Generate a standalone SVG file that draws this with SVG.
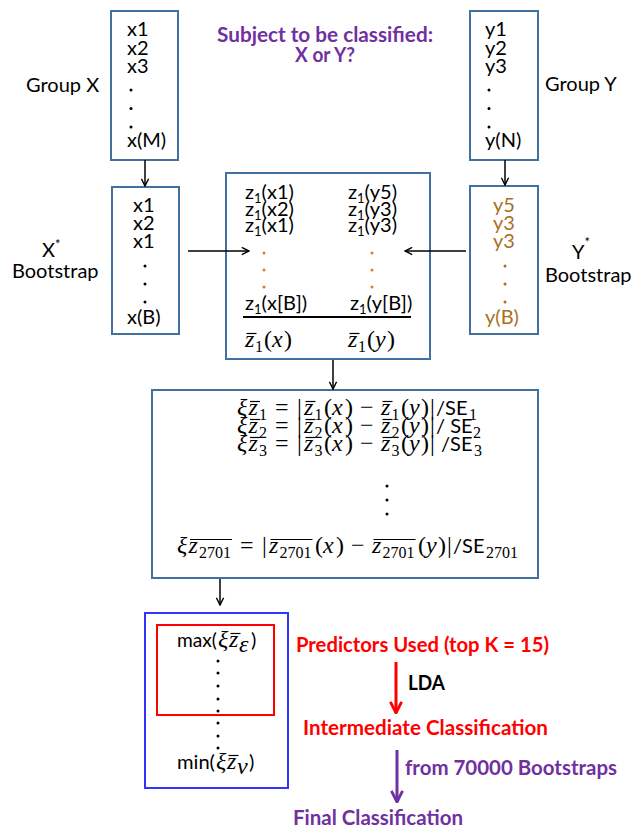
<svg xmlns="http://www.w3.org/2000/svg" width="633" height="829" viewBox="0 0 633 829">
<style>
.box{fill:#fff;stroke:#41719C;stroke-width:2}
.t{font-family:Lato,"Liberation Sans",sans-serif;font-size:20px;fill:#000}
.ts{font-family:Lato,"Liberation Sans",sans-serif;font-size:13px}
.m{font-family:"Liberation Serif","DejaVu Serif",serif;font-style:italic;font-size:24px;fill:#000}
.r{font-family:"Liberation Serif","DejaVu Serif",serif;font-size:24px;fill:#000}
.s{font-family:"Liberation Serif","DejaVu Serif",serif;font-size:16px;fill:#000}
.b{font-family:Lato,"Liberation Sans",sans-serif;font-weight:bold;font-size:20px}
.bar{stroke:#000;stroke-width:1.2}
.or{fill:#A9701E}
.od{fill:#E07B24}
.red{fill:#FF0000}
.pur{fill:#7030A0}
.c{fill:none;stroke:#000;stroke-width:1.5}
.d{fill:#000}
</style>
<defs>
<marker id="ah" viewBox="0 0 10 10" refX="9" refY="5" markerWidth="9" markerHeight="9" markerUnits="userSpaceOnUse" orient="auto"><path d="M1,1 L9,5 L1,9" fill="none" stroke="#000" stroke-width="1.6"/></marker>
<marker id="ahr" viewBox="0 0 10 10" refX="9" refY="5" markerWidth="14" markerHeight="14" markerUnits="userSpaceOnUse" orient="auto"><path d="M1,1 L9,5 L1,9" fill="none" stroke="#FF0000" stroke-width="2"/></marker>
<marker id="ahp" viewBox="0 0 10 10" refX="9" refY="5" markerWidth="14" markerHeight="14" markerUnits="userSpaceOnUse" orient="auto"><path d="M1,1 L9,5 L1,9" fill="none" stroke="#7030A0" stroke-width="2"/></marker>
</defs>
<rect width="633" height="829" fill="#fff"/>

<g id="subject">
<text class="b pur" x="217" y="42" textLength="216" lengthAdjust="spacingAndGlyphs">Subject to be classified:</text>
<text class="b pur" x="295" y="62" textLength="60" lengthAdjust="spacingAndGlyphs">X or Y?</text>
</g>

<g id="groupX">
<text class="t" x="26" y="92">Group X</text>
<rect class="box" x="111" y="11" width="67" height="149"/>
<text class="t" x="127" y="36">x1</text>
<text class="t" x="127" y="54.5">x2</text>
<text class="t" x="127" y="73">x3</text>
<circle class="d" cx="131" cy="90" r="1.5"/>
<circle class="d" cx="131" cy="108.5" r="1.5"/>
<circle class="d" cx="131" cy="127" r="1.5"/>
<text class="t" x="127" y="147">x(M)</text>
</g>

<g id="groupY">
<text class="t" x="545" y="91">Group Y</text>
<rect class="box" x="470" y="11" width="68" height="149"/>
<text class="t" x="485" y="36">y1</text>
<text class="t" x="485" y="54.5">y2</text>
<text class="t" x="485" y="73">y3</text>
<circle class="d" cx="489" cy="90" r="1.5"/>
<circle class="d" cx="489" cy="108.5" r="1.5"/>
<circle class="d" cx="489" cy="127" r="1.5"/>
<text class="t" x="485" y="147">y(N)</text>
</g>

<g id="bootX">
<text class="t" x="42" y="257">X<tspan font-size="13" dy="-8">*</tspan></text>
<text class="t" x="12" y="278">Bootstrap</text>
<rect class="box" x="112" y="187" width="67" height="147"/>
<text class="t" x="133" y="212">x1</text>
<text class="t" x="133" y="230">x2</text>
<text class="t" x="133" y="248">x1</text>
<circle class="d" cx="145" cy="266" r="1.5"/>
<circle class="d" cx="145" cy="284" r="1.5"/>
<circle class="d" cx="145" cy="302" r="1.5"/>
<text class="t" x="127" y="324">x(B)</text>
</g>

<g id="bootY">
<text class="t" x="572" y="259">Y<tspan font-size="13" dy="-12">*</tspan></text>
<text class="t" x="545" y="282">Bootstrap</text>
<rect class="box" x="470" y="186" width="68" height="148"/>
<text class="t or" x="493" y="212">y5</text>
<text class="t or" x="493" y="230">y3</text>
<text class="t or" x="493" y="248">y3</text>
<circle class="or" cx="505" cy="266" r="1.5"/>
<circle class="or" cx="505" cy="284" r="1.5"/>
<circle class="or" cx="505" cy="302" r="1.5"/>
<text class="t or" x="485" y="324">y(B)</text>
</g>

<g id="means">
<rect class="box" x="226" y="173" width="204" height="186"/>
<text class="t" x="245" y="199">z<tspan class="ts" dy="4">1</tspan><tspan dy="-4">(x1)</tspan></text>
<text class="t" x="245" y="215.5">z<tspan class="ts" dy="4">1</tspan><tspan dy="-4">(x2)</tspan></text>
<text class="t" x="245" y="232">z<tspan class="ts" dy="4">1</tspan><tspan dy="-4">(x1)</tspan></text>
<text class="t" x="348" y="199">z<tspan class="ts" dy="4">1</tspan><tspan dy="-4">(y5)</tspan></text>
<text class="t" x="348" y="215.5">z<tspan class="ts" dy="4">1</tspan><tspan dy="-4">(y3)</tspan></text>
<text class="t" x="348" y="232">z<tspan class="ts" dy="4">1</tspan><tspan dy="-4">(y3)</tspan></text>
<circle class="od" cx="264" cy="253" r="1.5"/>
<circle class="od" cx="264" cy="270" r="1.5"/>
<circle class="od" cx="264" cy="287" r="1.5"/>
<circle class="od" cx="372" cy="253" r="1.5"/>
<circle class="od" cx="372" cy="270" r="1.5"/>
<circle class="od" cx="372" cy="287" r="1.5"/>
<text class="t" x="245" y="310">z<tspan class="ts" dy="4">1</tspan><tspan dy="-4">(x[B])</tspan></text>
<text class="t" x="350" y="310">z<tspan class="ts" dy="4">1</tspan><tspan dy="-4">(y[B])</tspan></text>
<line x1="243" y1="317" x2="411" y2="317" stroke="#000" stroke-width="2"/>
<text><tspan class="m" x="245" y="347">z</tspan><tspan class="s" x="255" y="352">1</tspan><tspan class="r" x="264" y="347">(</tspan><tspan class="m" x="272" y="347">x</tspan><tspan class="r" x="284" y="347">)</tspan></text>
<line class="bar" x1="246.5" y1="333.5" x2="256.5" y2="333.5"/>
<text><tspan class="m" x="348" y="347">z</tspan><tspan class="s" x="358" y="352">1</tspan><tspan class="r" x="367" y="347">(</tspan><tspan class="m" x="375" y="347">y</tspan><tspan class="r" x="387" y="347">)</tspan></text>
<line class="bar" x1="349.5" y1="333.5" x2="359.5" y2="333.5"/>
</g>

<g id="scores">
<rect class="box" x="152" y="390" width="386" height="188"/>
<text><tspan class="m" x="237" y="415">ξ</tspan><tspan class="m" x="248.5" y="415">z</tspan><tspan class="s" x="259" y="420">1</tspan><tspan class="r" x="275" y="415">=</tspan><tspan class="r" x="297" y="415">|</tspan><tspan class="m" x="304" y="415">z</tspan><tspan class="s" x="314.5" y="420">1</tspan><tspan class="r" x="324" y="415">(</tspan><tspan class="m" x="332" y="415">x</tspan><tspan class="r" x="345" y="415">)</tspan><tspan class="r" x="360" y="415">−</tspan><tspan class="m" x="381" y="415">z</tspan><tspan class="s" x="391.5" y="420">1</tspan><tspan class="r" x="401" y="415">(</tspan><tspan class="m" x="409" y="415">y</tspan><tspan class="r" x="421" y="415">)</tspan><tspan class="r" x="430" y="415">|</tspan><tspan class="t" x="436" y="415">/SE</tspan><tspan class="s" x="469" y="420">1</tspan></text>
<line class="bar" x1="250" y1="401.5" x2="260" y2="401.5"/>
<line class="bar" x1="305.5" y1="401.5" x2="315.5" y2="401.5"/>
<line class="bar" x1="382.5" y1="401.5" x2="392.5" y2="401.5"/>
<text><tspan class="m" x="237" y="433">ξ</tspan><tspan class="m" x="248.5" y="433">z</tspan><tspan class="s" x="259" y="438">2</tspan><tspan class="r" x="275" y="433">=</tspan><tspan class="r" x="297" y="433">|</tspan><tspan class="m" x="304" y="433">z</tspan><tspan class="s" x="314.5" y="438">2</tspan><tspan class="r" x="324" y="433">(</tspan><tspan class="m" x="332" y="433">x</tspan><tspan class="r" x="345" y="433">)</tspan><tspan class="r" x="360" y="433">−</tspan><tspan class="m" x="381" y="433">z</tspan><tspan class="s" x="391.5" y="438">2</tspan><tspan class="r" x="401" y="433">(</tspan><tspan class="m" x="409" y="433">y</tspan><tspan class="r" x="421" y="433">)</tspan><tspan class="r" x="430" y="433">|</tspan><tspan class="t" x="436" y="433">/ SE</tspan><tspan class="s" x="473" y="438">2</tspan></text>
<line class="bar" x1="250" y1="419.5" x2="260" y2="419.5"/>
<line class="bar" x1="305.5" y1="419.5" x2="315.5" y2="419.5"/>
<line class="bar" x1="382.5" y1="419.5" x2="392.5" y2="419.5"/>
<text><tspan class="m" x="237" y="451">ξ</tspan><tspan class="m" x="248.5" y="451">z</tspan><tspan class="s" x="259" y="456">3</tspan><tspan class="r" x="275" y="451">=</tspan><tspan class="r" x="297" y="451">|</tspan><tspan class="m" x="304" y="451">z</tspan><tspan class="s" x="314.5" y="456">3</tspan><tspan class="r" x="324" y="451">(</tspan><tspan class="m" x="332" y="451">x</tspan><tspan class="r" x="345" y="451">)</tspan><tspan class="r" x="360" y="451">−</tspan><tspan class="m" x="381" y="451">z</tspan><tspan class="s" x="391.5" y="456">3</tspan><tspan class="r" x="401" y="451">(</tspan><tspan class="m" x="409" y="451">y</tspan><tspan class="r" x="421" y="451">)</tspan><tspan class="r" x="430" y="451">|</tspan><tspan class="t" x="441" y="451">/SE</tspan><tspan class="s" x="474" y="456">3</tspan></text>
<line class="bar" x1="250" y1="437.5" x2="260" y2="437.5"/>
<line class="bar" x1="305.5" y1="437.5" x2="315.5" y2="437.5"/>
<line class="bar" x1="382.5" y1="437.5" x2="392.5" y2="437.5"/>
<circle class="d" cx="387" cy="486" r="1.5"/>
<circle class="d" cx="387" cy="500" r="1.5"/>
<circle class="d" cx="387" cy="514" r="1.5"/>
<text><tspan class="m" x="177" y="553">ξ</tspan><tspan class="m" x="188.5" y="553">z</tspan><tspan class="s" x="199" y="558">2701</tspan><tspan class="r" x="240" y="553">=</tspan><tspan class="r" x="262" y="553">|</tspan><tspan class="m" x="269" y="553">z</tspan><tspan class="s" x="279.5" y="558">2701</tspan><tspan class="r" x="315" y="553">(</tspan><tspan class="m" x="323" y="553">x</tspan><tspan class="r" x="336" y="553">)</tspan><tspan class="r" x="351" y="553">−</tspan><tspan class="m" x="372" y="553">z</tspan><tspan class="s" x="382.5" y="558">2701</tspan><tspan class="r" x="418" y="553">(</tspan><tspan class="m" x="426" y="553">y</tspan><tspan class="r" x="438" y="553">)</tspan><tspan class="r" x="447" y="553">|</tspan><tspan class="t" x="453" y="553">/SE</tspan><tspan class="s" x="486" y="558">2701</tspan></text>
<line class="bar" x1="190" y1="539.5" x2="232" y2="539.5"/>
<line class="bar" x1="270.5" y1="539.5" x2="312.5" y2="539.5"/>
<line class="bar" x1="373.5" y1="539.5" x2="415.5" y2="539.5"/>
</g>

<g id="ranking">
<rect x="145" y="613" width="143" height="175" fill="#fff" stroke="#3333FF" stroke-width="2"/>
<rect x="157" y="625" width="117" height="90" fill="none" stroke="#FF0000" stroke-width="2"/>
<text><tspan class="t" x="177" y="647" textLength="40" lengthAdjust="spacingAndGlyphs">max(</tspan><tspan class="m" x="218" y="647">ξ</tspan><tspan class="m" x="229" y="647">z</tspan><tspan class="m" x="239" y="652" font-size="16">ε</tspan><tspan class="t" x="251" y="647">)</tspan></text>
<line class="bar" x1="230.5" y1="633.5" x2="240.5" y2="633.5"/>
<circle class="d" cx="218" cy="661" r="1.5"/>
<circle class="d" cx="218" cy="673" r="1.5"/>
<circle class="d" cx="218" cy="686" r="1.5"/>
<circle class="d" cx="218" cy="699" r="1.5"/>
<circle class="d" cx="218" cy="711" r="1.5"/>
<circle class="d" cx="218" cy="723" r="1.5"/>
<circle class="d" cx="218" cy="736" r="1.5"/>
<circle class="d" cx="218" cy="748" r="1.5"/>
<text><tspan class="t" x="177" y="769" textLength="38" lengthAdjust="spacingAndGlyphs">min(</tspan><tspan class="m" x="216" y="769">ξ</tspan><tspan class="m" x="227" y="769">z</tspan><tspan class="m" x="237" y="774" font-size="16">ν</tspan><tspan class="t" x="249" y="769">)</tspan></text>
<line class="bar" x1="228.5" y1="755.5" x2="238.5" y2="755.5"/>
</g>

<g id="predictors"><text class="b red" x="296" y="652" textLength="253" lengthAdjust="spacingAndGlyphs">Predictors Used (top K = 15)</text></g>
<g id="lda"><text class="b" x="408" y="690" textLength="37" lengthAdjust="spacingAndGlyphs">LDA</text></g>
<g id="intermediate"><text class="b red" x="303" y="735" textLength="245" lengthAdjust="spacingAndGlyphs">Intermediate Classification</text></g>
<g id="bootstraps"><text class="b pur" x="405" y="775" textLength="212" lengthAdjust="spacingAndGlyphs">from 70000 Bootstraps</text></g>
<g id="final"><text class="b pur" x="293" y="825" textLength="170" lengthAdjust="spacingAndGlyphs">Final Classification</text></g>

<g id="connectors">
<path class="c" d="M145,160 V186" marker-end="url(#ah)"/>
<path class="c" d="M505,160 V185" marker-end="url(#ah)"/>
<path class="c" d="M188,251 H249" marker-end="url(#ah)"/>
<path class="c" d="M466,251 H405" marker-end="url(#ah)"/>
<path class="c" d="M333,360 V389" marker-end="url(#ah)"/>
<path class="c" d="M220,579 V605" marker-end="url(#ah)"/>
<path d="M396,662 V713" fill="none" stroke="#FF0000" stroke-width="3" marker-end="url(#ahr)"/>
<path d="M397,750 V802" fill="none" stroke="#7030A0" stroke-width="3" marker-end="url(#ahp)"/>
</g>
</svg>
